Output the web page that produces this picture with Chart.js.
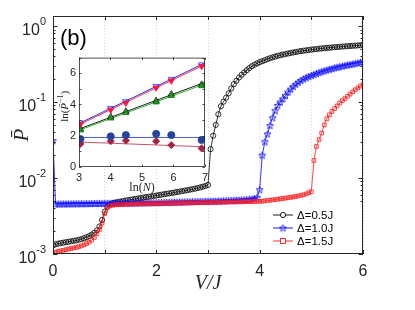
<!DOCTYPE html>
<html>
<head>
<meta charset="utf-8">
<script src="https://cdn.jsdelivr.net/npm/chart.js@4.4.0/dist/chart.umd.min.js"></script>
<style>
html, body { margin: 0; padding: 0; background: #fff; }
#wrap { position: relative; width: 415px; height: 310px; }
#main { position: absolute; left: 0; top: 0; }
#inset { position: absolute; left: 52px; top: 48px; }
</style>
</head>
<body>
<div id="wrap">
  <canvas id="main" width="415" height="310"></canvas>
  <canvas id="inset" width="160" height="148"></canvas>
</div>
<script>
'use strict';

// main panel: V/J grid and P-bar for the three Delta values
let vValues = [0, 0.05, 0.1, 0.15, 0.2, 0.25, 0.3, 0.35, 0.4, 0.45, 0.5, 0.55, 0.6, 0.65, 0.7, 0.75, 0.8, 0.85, 0.9, 0.95,
  1, 1.05, 1.1, 1.15, 1.2, 1.25, 1.3, 1.35, 1.4, 1.45, 1.5, 1.55, 1.6, 1.65, 1.7, 1.75, 1.8, 1.85, 1.9, 1.95,
  2, 2.05, 2.1, 2.15, 2.2, 2.25, 2.3, 2.35, 2.4, 2.45, 2.5, 2.55, 2.6, 2.65, 2.7, 2.75, 2.8, 2.85, 2.9, 2.95,
  3, 3.05, 3.1, 3.15, 3.2, 3.25, 3.3, 3.35, 3.4, 3.45, 3.5, 3.55, 3.6, 3.65, 3.7, 3.75, 3.8, 3.85, 3.9, 3.95,
  4, 4.05, 4.1, 4.15, 4.2, 4.25, 4.3, 4.35, 4.4, 4.45, 4.5, 4.55, 4.6, 4.65, 4.7, 4.75, 4.8, 4.85, 4.9, 4.95,
  5, 5.05, 5.1, 5.15, 5.2, 5.25, 5.3, 5.35, 5.4, 5.45, 5.5, 5.55, 5.6, 5.65, 5.7, 5.75, 5.8, 5.85, 5.9, 5.95, 6];

let pDelta05 = [1.30e-3, 1.34e-3, 1.37e-3, 1.39e-3, 1.41e-3, 1.43e-3, 1.45e-3, 1.47e-3, 1.49e-3, 1.51e-3,
  1.54e-3, 1.57e-3, 1.61e-3, 1.66e-3, 1.72e-3, 1.80e-3, 1.90e-3, 2.05e-3, 2.30e-3, 2.80e-3,
  3.60e-3, 4.20e-3, 4.50e-3, 4.65e-3, 4.75e-3, 4.83e-3, 4.90e-3, 4.97e-3, 5.04e-3, 5.11e-3,
  5.18e-3, 5.25e-3, 5.32e-3, 5.39e-3, 5.46e-3, 5.53e-3, 5.60e-3, 5.67e-3, 5.74e-3, 5.81e-3,
  5.88e-3, 5.96e-3, 6.04e-3, 6.12e-3, 6.20e-3, 6.28e-3, 6.36e-3, 6.45e-3, 6.54e-3, 6.63e-3,
  6.72e-3, 6.82e-3, 6.92e-3, 7.02e-3, 7.13e-3, 7.25e-3, 7.38e-3, 7.52e-3, 7.68e-3, 7.85e-3,
  8.1e-3, 0.024, 0.036, 0.050, 0.069, 0.088, 0.101, 0.114, 0.130, 0.151,
  0.172, 0.190, 0.210, 0.228, 0.245, 0.262, 0.280, 0.296, 0.310, 0.322,
  0.334, 0.345, 0.355, 0.367, 0.377, 0.387, 0.396, 0.405, 0.413, 0.421,
  0.428, 0.435, 0.442, 0.449, 0.455, 0.462, 0.468, 0.474, 0.479, 0.484,
  0.489, 0.494, 0.498, 0.503, 0.507, 0.511, 0.515, 0.519, 0.522, 0.526,
  0.529, 0.533, 0.536, 0.540, 0.543, 0.546, 0.549, 0.552, 0.555, 0.558, 0.561];

let pDelta10 = [0.031, 4.55e-3, 4.55e-3, 4.56e-3, 4.56e-3, 4.57e-3, 4.57e-3, 4.58e-3, 4.58e-3, 4.59e-3,
  4.59e-3, 4.60e-3, 4.60e-3, 4.61e-3, 4.61e-3, 4.62e-3, 4.62e-3, 4.63e-3, 4.63e-3, 4.64e-3,
  4.64e-3, 4.65e-3, 4.65e-3, 4.66e-3, 4.66e-3, 4.67e-3, 4.67e-3, 4.68e-3, 4.68e-3, 4.69e-3,
  4.69e-3, 4.70e-3, 4.70e-3, 4.71e-3, 4.71e-3, 4.72e-3, 4.72e-3, 4.73e-3, 4.73e-3, 4.74e-3,
  4.74e-3, 4.75e-3, 4.76e-3, 4.77e-3, 4.78e-3, 4.79e-3, 4.80e-3, 4.81e-3, 4.82e-3, 4.83e-3,
  4.84e-3, 4.85e-3, 4.86e-3, 4.87e-3, 4.88e-3, 4.89e-3, 4.90e-3, 4.91e-3, 4.92e-3, 4.93e-3,
  4.94e-3, 4.95e-3, 4.96e-3, 4.97e-3, 4.98e-3, 5.00e-3, 5.01e-3, 5.03e-3, 5.04e-3, 5.06e-3,
  5.08e-3, 5.10e-3, 5.12e-3, 5.14e-3, 5.17e-3, 5.20e-3, 5.24e-3, 5.29e-3, 5.37e-3, 5.55e-3,
  7.0e-3, 0.020, 0.030, 0.038, 0.049, 0.062, 0.077, 0.090, 0.100, 0.110,
  0.122, 0.135, 0.148, 0.160, 0.171, 0.182, 0.192, 0.201, 0.209, 0.216,
  0.223, 0.230, 0.237, 0.244, 0.251, 0.257, 0.263, 0.269, 0.275, 0.281,
  0.287, 0.292, 0.297, 0.302, 0.307, 0.312, 0.317, 0.322, 0.327, 0.332, 0.337];

let pDelta15 = [1.04e-3, 1.06e-3, 1.08e-3, 1.10e-3, 1.12e-3, 1.14e-3, 1.16e-3, 1.18e-3, 1.20e-3, 1.22e-3,
  1.25e-3, 1.28e-3, 1.32e-3, 1.37e-3, 1.43e-3, 1.52e-3, 1.65e-3, 1.85e-3, 2.10e-3, 2.55e-3,
  3.40e-3, 4.05e-3, 4.28e-3, 4.38e-3, 4.43e-3, 4.46e-3, 4.48e-3, 4.50e-3, 4.51e-3, 4.52e-3,
  4.53e-3, 4.54e-3, 4.55e-3, 4.56e-3, 4.57e-3, 4.58e-3, 4.59e-3, 4.60e-3, 4.61e-3, 4.62e-3,
  4.62e-3, 4.63e-3, 4.64e-3, 4.64e-3, 4.65e-3, 4.66e-3, 4.67e-3, 4.67e-3, 4.68e-3, 4.69e-3,
  4.70e-3, 4.70e-3, 4.71e-3, 4.72e-3, 4.73e-3, 4.74e-3, 4.74e-3, 4.75e-3, 4.76e-3, 4.77e-3,
  4.78e-3, 4.78e-3, 4.79e-3, 4.80e-3, 4.80e-3, 4.81e-3, 4.82e-3, 4.82e-3, 4.83e-3, 4.84e-3,
  4.84e-3, 4.85e-3, 4.86e-3, 4.86e-3, 4.87e-3, 4.88e-3, 4.88e-3, 4.89e-3, 4.90e-3, 4.91e-3,
  4.92e-3, 4.96e-3, 5.00e-3, 5.05e-3, 5.10e-3, 5.15e-3, 5.20e-3, 5.26e-3, 5.32e-3, 5.38e-3,
  5.44e-3, 5.50e-3, 5.57e-3, 5.64e-3, 5.72e-3, 5.80e-3, 5.90e-3, 6.02e-3, 6.18e-3, 6.40e-3,
  6.6e-3, 0.017, 0.026, 0.032, 0.039, 0.050, 0.060, 0.068, 0.075, 0.082,
  0.089, 0.097, 0.104, 0.111, 0.119, 0.127, 0.136, 0.145, 0.153, 0.162, 0.170];

let seriesNames = ['\u0394=0.5J', '\u0394=1.0J', '\u0394=1.5J'];
let xTickLabels = [0, 2, 4, 6];
let yTickExps = [0, -1, -2, -3];

// inset: ln(N) and ln(1/P-bar)
let lnN = [3.045, 4.007, 4.489, 5.451, 5.932, 6.895];
let insBlueTri = [2.83, 3.76, 4.19, 5.17, 5.62, 6.55];
let insRedTri = [2.74, 3.66, 4.10, 5.07, 5.52, 6.45];
let insBlackTri = [2.45, 3.22, 3.56, 4.24, 4.66, 5.28];
let insGreenTri = [2.36, 3.12, 3.47, 4.15, 4.56, 5.19];
let insCircle = [1.79, 1.96, 2.04, 2.12, 2.04, 1.73];
let insDiamond = [1.48, 1.65, 1.69, 1.65, 1.40, 1.19];
let fitX = [3, 7];
let fitBlue = [2.78, 6.66];
let fitRed = [2.70, 6.56];
let fitBlack = [2.43, 5.42];
let fitGreen = [2.35, 5.32];
let fitCircle = [1.89, 1.89];
let fitDiamond = [1.60, 1.29];
let insXTicks = [3, 4, 5, 6, 7];

const SANS = '"Liberation Sans", Arial, Helvetica, sans-serif';
const SERIF = '"Liberation Serif", "Times New Roman", serif';
const AXIS = '#262626';

function pts(xs, ys) {
    return xs.map(function (x, i) { return { x: x, y: ys[i] }; });
}

function makeStar(color) {
    let c = document.createElement('canvas');
    c.width = 9; c.height = 9;
    let g = c.getContext('2d');
    g.beginPath();
    for (let k = 0; k < 10; k++) {
        let r = k % 2 ? 1.5 : 3.7;
        let a = -Math.PI / 2 + k * Math.PI / 5;
        g.lineTo(4.5 + r * Math.cos(a), 4.8 + r * Math.sin(a));
    }
    g.closePath();
    g.strokeStyle = color;
    g.lineWidth = 0.8;
    g.stroke();
    return c;
}
let blueStar = makeStar('#0000ff');

// frame, inward ticks, log tick labels, (b) and legend
let mainDecor = {
    id: 'mainDecor',
    afterDraw: function (chart) {
        let ctx = chart.ctx;
        let a = chart.chartArea;
        let xs = chart.scales.x, ys = chart.scales.y;
        ctx.save();
        ctx.strokeStyle = AXIS;
        ctx.lineWidth = 1;
        ctx.strokeRect(a.left + 0.5, a.top + 0.5, a.right - a.left - 1, a.bottom - a.top - 1);
        ctx.beginPath();
        for (let v = 0; v <= 6; v++) {
            let px = Math.round(xs.getPixelForValue(v)) + 0.5;
            ctx.moveTo(px, a.bottom); ctx.lineTo(px, a.bottom - 4);
            ctx.moveTo(px, a.top); ctx.lineTo(px, a.top + 4);
        }
        for (let e = -3; e <= 0; e++) {
            for (let m = 1; m <= 9; m++) {
                let val = m * Math.pow(10, e);
                if (val > ys.max) continue;
                let py = Math.round(ys.getPixelForValue(val)) + 0.5;
                let len = m === 1 ? 4.5 : 2.5;
                ctx.moveTo(a.left, py); ctx.lineTo(a.left + len, py);
                ctx.moveTo(a.right, py); ctx.lineTo(a.right - len, py);
            }
        }
        ctx.stroke();

        // y tick labels 10^e
        ctx.fillStyle = AXIS;
        ctx.textBaseline = 'alphabetic';
        yTickExps.forEach(function (e) {
            let py = ys.getPixelForValue(Math.pow(10, e));
            let sup = String(e);
            ctx.font = '11px ' + SANS;
            let wSup = ctx.measureText(sup).width;
            ctx.textAlign = 'left';
            let right = a.left - 7;
            ctx.fillText(sup, right - wSup, py - 1);
            ctx.font = '16px ' + SANS;
            ctx.textAlign = 'right';
            ctx.fillText('10', right - wSup, py + 9);
        });

        // y title
        ctx.save();
        ctx.translate(22, (a.top + a.bottom) / 2);
        ctx.rotate(-Math.PI / 2);
        ctx.font = 'italic 21px ' + SERIF;
        ctx.textAlign = 'center';
        ctx.textBaseline = 'middle';
        ctx.fillText('P\u0304', 0, 0);
        ctx.restore();

        // panel label
        ctx.font = '22px ' + SANS;
        ctx.textAlign = 'left';
        ctx.textBaseline = 'middle';
        ctx.fillStyle = '#000';
        ctx.fillText('(b)', 60, 39);

        // legend
        ctx.fillStyle = '#fff';
        ctx.fillRect(268, 205, a.right - 269, a.bottom - 206);
        let ds = chart.data.datasets;
        let ly = [215, 228, 241];
        ds.forEach(function (d, i) {
            let y = ly[i];
            ctx.strokeStyle = d.borderColor;
            ctx.lineWidth = 0.9;
            ctx.beginPath();
            ctx.moveTo(273, y); ctx.lineTo(293, y);
            ctx.stroke();
            if (d.pointStyle === 'circle') {
                ctx.beginPath(); ctx.arc(283, y, 2.6, 0, Math.PI * 2); ctx.fillStyle = '#fff'; ctx.fill(); ctx.stroke();
            } else if (d.pointStyle === 'rect') {
                ctx.fillStyle = '#fff';
                ctx.fillRect(280.5, y - 2.5, 5, 5);
                ctx.strokeRect(280.5, y - 2.5, 5, 5);
            } else {
                ctx.drawImage(d.pointStyle, 283 - 4.5, y - 4.5);
            }
            ctx.fillStyle = '#000';
            ctx.font = '11.5px ' + SANS;
            ctx.textAlign = 'left';
            ctx.textBaseline = 'middle';
            ctx.fillText(d.label, 297, y + 0.5);
        });
        ctx.restore();
    }
};

let mainChart = new Chart(document.getElementById('main'), {
    type: 'line',
    data: {
        datasets: [{
            label: seriesNames[0],
            data: pts(vValues, pDelta05),
            borderColor: '#000000',
            backgroundColor: 'rgba(0,0,0,0)',
            borderWidth: 0.8,
            pointStyle: 'circle',
            pointRadius: 2.6,
            pointBorderWidth: 0.8,
            order: 3
        }, {
            label: seriesNames[1],
            data: pts(vValues, pDelta10),
            borderColor: '#0000ff',
            backgroundColor: 'rgba(0,0,0,0)',
            borderWidth: 0.8,
            pointStyle: blueStar,
            pointRadius: 4,
            order: 2
        }, {
            label: seriesNames[2],
            data: pts(vValues, pDelta15),
            borderColor: '#ff1a1a',
            backgroundColor: 'rgba(0,0,0,0)',
            borderWidth: 0.8,
            pointStyle: 'rect',
            pointRadius: 2.6,
            pointBorderWidth: 0.8,
            order: 1
        }]
    },
    options: {
        animation: false,
        responsive: false,
        maintainAspectRatio: false,
        plugins: { legend: { display: false }, tooltip: { enabled: false } },
        layout: { padding: { top: 16, right: 52, left: 0, bottom: 0 } },
        scales: {
            x: {
                type: 'linear', min: 0, max: 6,
                ticks: {
                    stepSize: 1, autoSkip: false, maxRotation: 0, padding: 8,
                    color: AXIS, font: { size: 16, family: SANS },
                    callback: function (v) { return xTickLabels.indexOf(v) >= 0 ? String(v) : ''; }
                },
                grid: { display: true, color: '#c8c8c8', lineWidth: 0.8, drawTicks: false },
                border: { display: false, dash: [1, 2] },
                title: {
                    display: true, text: 'V/J', color: AXIS,
                    font: { family: SERIF, style: 'italic', size: 20 },
                    padding: { top: 0, bottom: 14 }
                },
                afterFit: function (s) { s.height = 56; }
            },
            y: {
                type: 'logarithmic', min: 1e-3, max: 1.355,
                ticks: { display: false },
                grid: { display: false, drawTicks: false },
                border: { display: false },
                afterFit: function (s) { s.width = 53; }
            }
        }
    },
    plugins: [mainDecor]
});

// inset decorations
let insetDecor = {
    id: 'insetDecor',
    beforeDraw: function (chart) {
        let a = chart.chartArea;
        chart.ctx.save();
        chart.ctx.fillStyle = '#fff';
        chart.ctx.fillRect(a.left, a.top, a.right - a.left, a.bottom - a.top);
        chart.ctx.restore();
    },
    afterDraw: function (chart) {
        let ctx = chart.ctx;
        let a = chart.chartArea;
        let xs = chart.scales.x, ys = chart.scales.y;
        ctx.save();
        ctx.strokeStyle = AXIS;
        ctx.lineWidth = 0.8;
        ctx.strokeRect(a.left + 0.5, a.top + 0.5, a.right - a.left - 1, a.bottom - a.top - 1);
        ctx.beginPath();
        insXTicks.forEach(function (v) {
            let px = Math.round(xs.getPixelForValue(v)) + 0.5;
            ctx.moveTo(px, a.bottom); ctx.lineTo(px, a.bottom - 2.5);
            ctx.moveTo(px, a.top); ctx.lineTo(px, a.top + 2.5);
        });
        for (let v = 0; v <= 7; v++) {
            let py = Math.round(ys.getPixelForValue(v)) + 0.5;
            ctx.moveTo(a.left, py); ctx.lineTo(a.left + 2.5, py);
            ctx.moveTo(a.right, py); ctx.lineTo(a.right - 2.5, py);
        }
        ctx.stroke();

        ctx.fillStyle = AXIS;
        ctx.textBaseline = 'middle';
        // x title ln(N)
        let cx = (a.left + a.right) / 2;
        let ty = 140;
        ctx.font = '12px ' + SERIF;
        let w1 = ctx.measureText('ln(').width, w3 = ctx.measureText(')').width;
        ctx.font = 'italic 12px ' + SERIF;
        let w2 = ctx.measureText('N').width;
        let x0 = cx - (w1 + w2 + w3) / 2;
        ctx.textAlign = 'left';
        ctx.font = '12px ' + SERIF;
        ctx.fillText('ln(', x0, ty);
        ctx.font = 'italic 12px ' + SERIF;
        ctx.fillText('N', x0 + w1, ty);
        ctx.font = '12px ' + SERIF;
        ctx.fillText(')', x0 + w1 + w2, ty);

        // y title ln(P-bar^-1)
        ctx.save();
        ctx.translate(13, (a.top + a.bottom) / 2 - 6);
        ctx.rotate(-Math.PI / 2);
        ctx.font = '11px ' + SERIF;
        let p1 = ctx.measureText('ln(').width;
        ctx.font = 'italic 11px ' + SERIF;
        let p2 = ctx.measureText('P\u0304').width;
        ctx.font = '8px ' + SERIF;
        let p3 = ctx.measureText('\u22121').width;
        ctx.font = '11px ' + SERIF;
        let p4 = ctx.measureText(')').width;
        let s0 = -(p1 + p2 + p3 + p4) / 2;
        ctx.fillText('ln(', s0, 0);
        ctx.font = 'italic 11px ' + SERIF;
        ctx.fillText('P\u0304', s0 + p1, 0);
        ctx.font = '8px ' + SERIF;
        ctx.fillText('\u22121', s0 + p1 + p2, -4);
        ctx.font = '11px ' + SERIF;
        ctx.fillText(')', s0 + p1 + p2 + p3, 0);
        ctx.restore();
        ctx.restore();
    }
};

function fitLine(ys, color) {
    return { data: pts(fitX, ys), showLine: true, borderColor: color, borderWidth: 1, pointRadius: 0 };
}
function markers(ys, style, rot, fill, edge, r) {
    return {
        data: pts(lnN, ys), showLine: false, pointStyle: style, rotation: rot,
        pointRadius: r, backgroundColor: fill, borderColor: edge, pointBorderWidth: 0.8
    };
}

let insetChart = new Chart(document.getElementById('inset'), {
    type: 'scatter',
    data: {
        datasets: [
            markers(insRedTri, 'triangle', 180, '#ff1040', '#ff1040', 3.6),
            markers(insBlueTri, 'triangle', 180, 'rgba(0,0,0,0)', '#2030ff', 3.6),
            fitLine(fitRed, '#ff3040'),
            fitLine(fitBlue, '#2030ff'),
            markers(insGreenTri, 'triangle', 0, '#14a014', '#0a700a', 3.6),
            markers(insBlackTri, 'triangle', 0, 'rgba(0,0,0,0)', '#000000', 3.6),
            fitLine(fitGreen, '#30b030'),
            fitLine(fitBlack, '#202020'),
            markers(insCircle, 'circle', 0, '#24449e', '#24449e', 3.6),
            markers(insDiamond, 'rectRot', 0, '#a82244', '#a82244', 3.6),
            fitLine(fitCircle, '#4a64b4'),
            fitLine(fitDiamond, '#c0546a')
        ]
    },
    options: {
        animation: false,
        responsive: false,
        maintainAspectRatio: false,
        plugins: { legend: { display: false }, tooltip: { enabled: false } },
        layout: { padding: { top: 5, right: 7, left: 0, bottom: 0 } },
        scales: {
            x: {
                type: 'linear', min: 3, max: 7,
                ticks: { stepSize: 1, padding: 4, color: AXIS, maxRotation: 0, font: { size: 11, family: SANS } },
                grid: { display: false, drawTicks: false },
                border: { display: false },
                afterFit: function (s) { s.height = 29; }
            },
            y: {
                type: 'linear', min: 0, max: 7,
                ticks: {
                    stepSize: 1, padding: 3, color: AXIS, font: { size: 11, family: SANS },
                    callback: function (v) { return v % 2 === 0 ? String(v) : ''; }
                },
                grid: { display: false, drawTicks: false },
                border: { display: false },
                afterFit: function (s) { s.width = 27; }
            }
        }
    },
    plugins: [insetDecor]
});
</script>
</body>
</html>
